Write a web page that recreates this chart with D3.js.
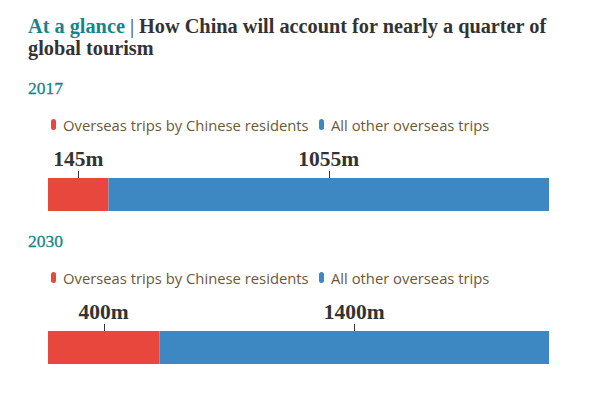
<!DOCTYPE html>
<html>
<head>
<meta charset="utf-8">
<script src="https://cdn.jsdelivr.net/npm/d3@7"></script>
<style>
  body { margin: 0; background: #fff; }
  svg { display: block; }
</style>
</head>
<body>
<div id="chart"></div>
<script>
var width = 603,
  height = 397,
  barLeft = 48,
  barRight = 549,
  barHeight = 33;

var years = ["2017", "2030"];
var seriesNames = ["Overseas trips by Chinese residents", "All other overseas trips"];
var chinaTrips = [145, 400];
var otherTrips = [1055, 1400];
var valueLabels = [["145m", "1055m"], ["400m", "1400m"]];

var colors = ["#e8473d", "#3d88c2"],
  teal = "#14868a",
  dark = "#333333",
  legendColor = "#6b5837";

var svg = d3.select("#chart").append("svg")
  .attr("width", width)
  .attr("height", height);

var title = svg.append("text")
  .attr("x", 28)
  .attr("y", 33)
  .style("font-family", "'Liberation Serif', serif")
  .style("font-weight", "bold")
  .style("font-size", "20.3px");

title.append("tspan").attr("fill", teal).text("At a glance");
title.append("tspan").attr("fill", dark).style("font-weight", "normal").text(" | ");
title.append("tspan").attr("fill", dark).text("How China will account for nearly a quarter of");

svg.append("text")
  .attr("x", 28)
  .attr("y", 55)
  .attr("fill", dark)
  .style("font-family", "'Liberation Serif', serif")
  .style("font-weight", "bold")
  .style("font-size", "20.3px")
  .text("global tourism");

var blockTops = [0, 153];

years.forEach(function (year, i) {
  var g = svg.append("g")
    .attr("transform", "translate(0," + blockTops[i] + ")");

  var values = [chinaTrips[i], otherTrips[i]];
  var total = d3.sum(values);

  var x = d3.scaleLinear()
    .domain([0, total])
    .range([barLeft, barRight]);

  g.append("text")
    .attr("x", 28)
    .attr("y", 94)
    .attr("fill", teal)
    .style("font-family", "'Liberation Serif', serif")
    .style("font-size", "17.5px")
    .style("stroke", teal)
    .style("stroke-width", "0.3px")
    .text(year);

  // legend
  var legend = g.append("g").attr("class", "legend");
  var legendX = [51, 319];
  seriesNames.forEach(function (name, j) {
    legend.append("rect")
      .attr("x", legendX[j])
      .attr("y", 119)
      .attr("width", 5)
      .attr("height", 11)
      .attr("rx", 2.5)
      .attr("fill", colors[j]);
    legend.append("text")
      .attr("x", legendX[j] + 12)
      .attr("y", 131)
      .attr("fill", legendColor)
      .style("font-family", "'Open Sans', sans-serif")
      .style("font-size", "14.8px")
      .text(name);
  });

  var segments = [];
  var start = 0;
  values.forEach(function (v, j) {
    segments.push({ start: start, end: start + v, label: valueLabels[i][j], color: colors[j] });
    start += v;
  });

  g.selectAll("rect.bar")
    .data(segments)
    .enter()
    .append("rect")
    .attr("class", "bar")
    .attr("x", function (d) { return x(d.start); })
    .attr("y", 178)
    .attr("width", function (d) { return x(d.end) - x(d.start); })
    .attr("height", barHeight)
    .attr("fill", function (d) { return d.color; });

  g.selectAll("line.tick")
    .data(segments)
    .enter()
    .append("line")
    .attr("class", "tick")
    .attr("x1", function (d) { return Math.round(x((d.start + d.end) / 2)) + 0.5; })
    .attr("x2", function (d) { return Math.round(x((d.start + d.end) / 2)) + 0.5; })
    .attr("y1", 171)
    .attr("y2", 178)
    .attr("stroke", dark)
    .attr("stroke-width", 1);

  g.selectAll("text.value")
    .data(segments)
    .enter()
    .append("text")
    .attr("class", "value")
    .attr("x", function (d) { return x((d.start + d.end) / 2); })
    .attr("y", 166)
    .attr("text-anchor", "middle")
    .attr("fill", dark)
    .style("font-family", "'Liberation Serif', serif")
    .style("font-weight", "bold")
    .style("font-size", "21.5px")
    .text(function (d) { return d.label; });
});
</script>
</body>
</html>
